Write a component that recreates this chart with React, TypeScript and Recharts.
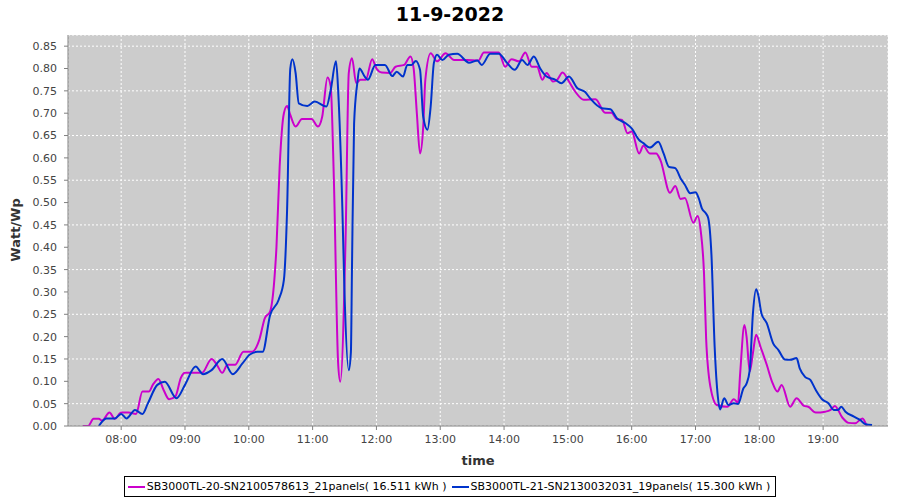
import { CartesianGrid, Legend, Line, LineChart, XAxis, YAxis } from "recharts";

const title = "11-9-2022";
const xTitle = "time";
const yTitle = "Watt/Wp";

const tickLabels = ["08:00", "09:00", "10:00", "11:00", "12:00", "13:00", "14:00", "15:00", "16:00", "17:00", "18:00", "19:00"];
const wattTicks = [0, 0.05, 0.1, 0.15, 0.2, 0.25, 0.3, 0.35, 0.4, 0.45, 0.5, 0.55, 0.6, 0.65, 0.7, 0.75, 0.8, 0.85];

const sb20Name = "SB3000TL-20-SN2100578613_21panels( 16.511 kWh )";
const sb20Time = [
  "07:24", "07:29", "07:34", "07:39", "07:42", "07:49", "07:54", "08:00", "08:07", "08:14",
  "08:20", "08:26", "08:30", "08:35", "08:40", "08:45", "08:51", "08:56", "09:00", "09:16",
  "09:25", "09:30", "09:35", "09:40", "09:47", "09:55", "10:03", "10:10", "10:15", "10:20",
  "10:24", "10:26", "10:29", "10:33", "10:36", "10:39", "10:44", "10:50", "10:59", "11:05",
  "11:09", "11:14", "11:17", "11:20", "11:24", "11:26", "11:31", "11:34", "11:37", "11:41",
  "11:45", "11:50", "11:56", "12:00", "12:05", "12:13", "12:18", "12:26", "12:32", "12:35",
  "12:38", "12:41", "12:44", "12:46", "12:51", "12:57", "13:05", "13:13", "13:25", "13:36",
  "13:41", "13:55", "14:01", "14:07", "14:14", "14:20", "14:26", "14:31", "14:36", "14:40",
  "14:46", "14:50", "14:55", "15:01", "15:07", "15:15", "15:26", "15:35", "15:41", "15:46",
  "15:51", "15:56", "16:00", "16:07", "16:11", "16:17", "16:23", "16:27", "16:36", "16:41",
  "16:46", "16:50", "16:58", "17:02", "17:05", "17:08", "17:10", "17:14", "17:20", "17:30",
  "17:36", "17:40", "17:42", "17:46", "17:48", "17:51", "17:54", "17:57", "18:01", "18:07",
  "18:12", "18:17", "18:21", "18:29", "18:35", "18:42", "18:46", "18:53", "19:02", "19:07",
  "19:11", "19:18", "19:24", "19:30", "19:37", "19:41",
];
const sb20Watt = [
  0, 0, 0.016, 0.016, 0.012, 0.03, 0.016, 0.03, 0.03, 0.027,
  0.077, 0.077, 0.093, 0.105, 0.08, 0.06, 0.066, 0.107, 0.119, 0.119,
  0.15, 0.137, 0.119, 0.137, 0.137, 0.166, 0.166, 0.194, 0.241, 0.256,
  0.327, 0.4, 0.58, 0.7, 0.716, 0.696, 0.67, 0.687, 0.687, 0.67,
  0.692, 0.78, 0.76, 0.55, 0.14, 0.099, 0.42, 0.79, 0.823, 0.767,
  0.775, 0.775, 0.821, 0.8, 0.791, 0.79, 0.804, 0.808, 0.827, 0.8,
  0.7, 0.61, 0.67, 0.775, 0.834, 0.816, 0.834, 0.819, 0.819, 0.818,
  0.836, 0.836, 0.804, 0.821, 0.816, 0.836, 0.804, 0.804, 0.775, 0.79,
  0.771, 0.775, 0.791, 0.771, 0.748, 0.73, 0.731, 0.701, 0.701, 0.687,
  0.685, 0.655, 0.659, 0.61, 0.627, 0.61, 0.61, 0.595, 0.522, 0.537,
  0.508, 0.51, 0.455, 0.47, 0.435, 0.342, 0.196, 0.088, 0.047, 0.043,
  0.06, 0.052, 0.118, 0.226, 0.2, 0.122, 0.163, 0.204, 0.178, 0.137,
  0.099, 0.077, 0.092, 0.043, 0.062, 0.045, 0.043, 0.03, 0.032, 0.036,
  0.045, 0.019, 0.007, 0.006, 0.017, 0,
];

const sb21Name = "SB3000TL-21-SN2130032031_19panels( 15.300 kWh )";
const sb21Time = [
  "07:39", "07:46", "07:54", "08:00", "08:05", "08:13", "08:20", "08:25", "08:34", "08:41",
  "08:52", "09:00", "09:10", "09:17", "09:25", "09:35", "09:45", "09:54", "10:01", "10:08",
  "10:13", "10:20", "10:28", "10:33", "10:36", "10:39", "10:41", "10:44", "10:47", "10:55",
  "11:02", "11:13", "11:17", "11:22", "11:24", "11:28", "11:30", "11:34", "11:36", "11:37",
  "11:39", "11:42", "11:44", "11:49", "11:52", "11:59", "12:08", "12:15", "12:19", "12:25",
  "12:29", "12:33", "12:37", "12:41", "12:44", "12:48", "12:51", "12:54", "12:57", "13:02",
  "13:08", "13:16", "13:27", "13:35", "13:39", "13:47", "13:55", "14:03", "14:10", "14:17",
  "14:22", "14:28", "14:34", "14:40", "14:48", "14:54", "15:01", "15:09", "15:16", "15:21",
  "15:32", "15:40", "15:46", "15:54", "16:00", "16:07", "16:11", "16:17", "16:25", "16:30",
  "16:35", "16:41", "16:46", "16:50", "16:55", "17:00", "17:03", "17:06", "17:10", "17:12",
  "17:15", "17:18", "17:21", "17:23", "17:27", "17:31", "17:36", "17:40", "17:45", "17:48",
  "17:51", "17:54", "17:57", "17:59", "18:02", "18:07", "18:13", "18:18", "18:24", "18:29",
  "18:35", "18:38", "18:43", "18:48", "18:53", "18:59", "19:05", "19:10", "19:14", "19:17",
  "19:21", "19:29", "19:35", "19:40", "19:46",
];
const sb21Watt = [
  0, 0.017, 0.017, 0.027, 0.017, 0.036, 0.027, 0.05, 0.092, 0.099,
  0.062, 0.092, 0.133, 0.116, 0.125, 0.15, 0.116, 0.14, 0.16, 0.166,
  0.166, 0.248, 0.282, 0.327, 0.484, 0.8, 0.821, 0.79, 0.722, 0.716,
  0.726, 0.715, 0.752, 0.816, 0.752, 0.484, 0.297, 0.125, 0.166, 0.35,
  0.677, 0.767, 0.8, 0.782, 0.775, 0.808, 0.808, 0.783, 0.793, 0.782,
  0.808, 0.808, 0.817, 0.797, 0.692, 0.663, 0.715, 0.812, 0.831, 0.819,
  0.831, 0.833, 0.813, 0.818, 0.808, 0.833, 0.833, 0.812, 0.797, 0.819,
  0.808, 0.827, 0.8, 0.782, 0.775, 0.767, 0.782, 0.756, 0.748, 0.733,
  0.711, 0.709, 0.689, 0.678, 0.666, 0.64, 0.633, 0.623, 0.636, 0.61,
  0.58, 0.577, 0.554, 0.54, 0.521, 0.523, 0.51, 0.487, 0.475, 0.465,
  0.383, 0.178, 0.066, 0.037, 0.062, 0.047, 0.051, 0.049, 0.084, 0.095,
  0.125, 0.252, 0.306, 0.293, 0.252, 0.23, 0.185, 0.17, 0.149, 0.148,
  0.152, 0.129, 0.11, 0.103, 0.081, 0.06, 0.051, 0.036, 0.036, 0.043,
  0.032, 0.021, 0.013, 0.004, 0.002,
];

const toMin = (s: string) => {
  const [h, m] = s.split(":").map(Number);
  return h * 60 + m;
};
const fmtTime = (v: number) =>
  `${String(Math.floor(v / 60)).padStart(2, "0")}:${String(v % 60).padStart(2, "0")}`;

const series = [
  { name: sb20Name, color: "#cc00cc", data: sb20Time.map((t, i) => ({ t: toMin(t), v: sb20Watt[i] })) },
  { name: sb21Name, color: "#0033cc", data: sb21Time.map((t, i) => ({ t: toMin(t), v: sb21Watt[i] })) },
];

const font = "'DejaVu Sans', sans-serif";
const tickStyle = { fontSize: 11, fill: "#444", fontFamily: font };

const YTitle = () => (
  <text x={20} y={230} transform="rotate(-90 20 230)" textAnchor="middle" fontSize={13} fontWeight="bold" fill="#333" fontFamily={font}>
    {yTitle}
  </text>
);

const XTitle = () => (
  <text x={478} y={465} textAnchor="middle" fontSize={13} fontWeight="bold" fill="#333" fontFamily={font}>
    {xTitle}
  </text>
);

const LegendBox = () => (
  <div style={{ textAlign: "center", height: 22 }}>
    <div
      style={{
        display: "inline-block",
        border: "1px solid #000",
        background: "#fff",
        height: 21,
        boxSizing: "border-box",
        padding: "0 5px 0 3px",
        fontFamily: font,
        fontSize: 11,
        lineHeight: "19px",
        color: "#000",
        whiteSpace: "nowrap",
      }}
    >
      {series.map((s, i) => (
        <span key={s.name} style={{ marginRight: i === 0 ? 5 : 0 }}>
          <svg width={17} height={8} style={{ verticalAlign: "middle", marginRight: 2 }}>
            <line x1={0} y1={4} x2={17} y2={4} stroke={s.color} strokeWidth={2} />
          </svg>
          {s.name}
        </span>
      ))}
    </div>
  </div>
);

export default function App() {
  return (
    <div style={{ position: "absolute", left: 0, top: 0, width: 900, height: 500, background: "#fff" }}>
      <div
        style={{
          position: "absolute",
          top: 1,
          left: 0,
          width: 900,
          textAlign: "center",
          fontFamily: font,
          fontWeight: "bold",
          fontSize: 19,
          lineHeight: "26px",
          color: "#000",
        }}
      >
        {title}
      </div>
      <LineChart width={900} height={500} margin={{ top: 35, right: 12, left: 0, bottom: 2 }}>
        <CartesianGrid fill="#cccccc" stroke="#ffffff" strokeDasharray="2 2" />
        <XAxis
          dataKey="t"
          type="number"
          domain={[430, 1201]}
          allowDataOverflow
          ticks={tickLabels.map(toMin)}
          tickFormatter={fmtTime}
          tick={tickStyle}
          tickSize={4}
          tickMargin={5}
          stroke="#808080"
          height={50}
          label={<XTitle />}
        />
        <XAxis xAxisId="top" orientation="top" type="number" domain={[430, 1201]} tick={false} tickLine={false} height={0} stroke="#777" />
        <YAxis
          type="number"
          domain={[0, 0.875]}
          allowDataOverflow
          ticks={wattTicks}
          tickFormatter={(v: number) => v.toFixed(2)}
          tick={tickStyle}
          tickSize={4}
          tickMargin={7}
          stroke="#808080"
          width={68}
          label={<YTitle />}
        />
        <YAxis yAxisId="right" orientation="right" domain={[0, 0.875]} tick={false} tickLine={false} width={0} stroke="#777" />
        <Legend verticalAlign="bottom" wrapperStyle={{ left: 0, width: 900 }} content={<LegendBox />} />
        {series.map((s) => (
          <Line
            key={s.name}
            data={s.data}
            dataKey="v"
            name={s.name}
            type="monotone"
            stroke={s.color}
            strokeWidth={2}
            dot={false}
            isAnimationActive={false}
          />
        ))}
      </LineChart>
    </div>
  );
}
